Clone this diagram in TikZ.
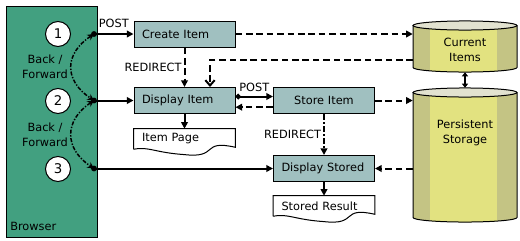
\documentclass[tikz,border=0pt]{standalone}
\usepackage{fontspec}
\setmainfont{DejaVu Sans}
\usetikzlibrary{arrows.meta,calc,positioning}
\definecolor{BrowserGreen}{RGB}{66,160,128}
\definecolor{StepGrey}{RGB}{160,192,192}
\definecolor{DrumYellow}{RGB}{226,226,128}
\definecolor{DrumOlive}{RGB}{196,196,132}
\definecolor{DrumTop}{RGB}{226,226,208}

\tikzset{
  stepbox/.style={draw,line width=.75pt,fill=StepGrey,text width=63.75pt,align=left,
    minimum height=19.5pt,inner xsep=6pt,inner ysep=0pt},
  pagebox/.style={text width=63.75pt,align=left,minimum height=15pt,inner xsep=6pt,inner ysep=0pt},
  drumbody/.style={minimum width=78pt,inner sep=0pt},
  flow/.style={line width=1.5pt,-{Triangle[length=5pt,width=5pt]}},
  dashflow/.style={flow,dash pattern=on 5pt off 2.8pt},
  redir/.style={flow,dash pattern=on 4.5pt off 1.5pt on 1.5pt off 1.5pt},
  backfwd/.style={line width=1.1pt,dash pattern=on 3pt off 1.2pt on 1pt off 1.2pt,
    {Stealth[length=5pt,width=5pt]}-{Stealth[length=5pt,width=5pt]}},
  stepno/.style={circle,draw,line width=.75pt,fill=white,minimum size=18.75pt,inner sep=0pt,font=\fontsize{10}{12}\selectfont},
  lbl/.style={align=center,inner sep=0pt},
}

\begin{document}
\begin{tikzpicture}[x=.75pt,y=-.75pt,font=\fontsize{8.5}{11}\selectfont]
  \useasboundingbox (0,0) rectangle (520,240);

  % browser column
  \node[draw,line width=.75pt,fill=BrowserGreen,minimum width=68.25pt,minimum height=173.25pt,
    inner sep=0pt,anchor=north west] (browser) at (6,6) {};
  \node[lbl,anchor=south west] (browserlbl) at ([xshift=3pt,yshift=5pt]browser.south west) {Browser};
  \foreach \i/\y in {1/34,2/101,3/169}
    \node[stepno] (c\i) at (58,\y) {\i};
  \node[lbl] (bf1) at (45,67) {Back /\\Forward};
  \node[lbl] (bf2) at (45,135) {Back /\\Forward};
  \coordinate (j1) at (94,34);
  \coordinate (j2) at (94,100.5);
  \coordinate (j3) at (94,168.5);

  % drums
  \foreach \yt/\yb in {25.5/67.5,92.5/217.5}{
    \begin{scope}
      \clip (413,\yt) -- (413,\yb) arc[start angle=180,end angle=360,x radius=39pt,y radius=3.4pt] -- (517,\yt) -- cycle;
      \fill[DrumOlive] (413,\yt-6) rectangle (517,\yb+6);
      \fill[DrumYellow] (430,\yt-6) rectangle (497,\yb+6);
    \end{scope}
    \draw[line width=.75pt] (413,\yt) -- (413,\yb) arc[start angle=180,end angle=360,x radius=39pt,y radius=3.4pt] -- (517,\yt);
    \draw[line width=.75pt,fill=DrumTop] (465,\yt) ellipse[x radius=39pt,y radius=3.4pt];
  }
  \node[drumbody,minimum height=38.25pt] (current) at (465,46.5) {};
  \node[drumbody,minimum height=100.5pt] (persist) at (465,155) {};
  \node[lbl] (currentlbl) at (465,50) {Current\\Items};
  \node[lbl] (persistlbl) at (465,133) {Persistent\\Storage};

  % steps
  \node[stepbox] (create) at (184.5,34) {Create Item};
  \node[stepbox] (display) at (184.5,100.5) {Display Item};
  \node[stepbox,align=center] (store) at (324,100.5) {Store Item};
  \node[stepbox] (stored) at (324,168.5) {Display Stored};
  \node[pagebox] (itempage) at (184.5,139) {Item Page};
  \node[pagebox] (storedres) at (324,206) {Stored Result};
  \foreach \n in {itempage,storedres}
    \draw[line width=.75pt] (\n.south west) -- (\n.north west) -- (\n.north east) -- ([yshift=1.5pt]\n.south east)
      .. controls +(-35,-8) and +(35,4) .. ([yshift=-4pt]\n.south) .. controls +(-30,-2) and +(15,-3) .. (\n.south west);

  % browser links
  \foreach \j in {j1,j2,j3}
    \fill (\j) circle (2.2pt);
  \draw[flow] (j1) -- (create.west) node[midway,above=4pt,lbl] (post1) {POST};
  \draw[flow] (j2) -- (display.west);
  \draw[flow] (j3) -- (stored.west);
  \draw[backfwd] (j1) .. controls +(-30,20) and +(-30,-20) .. (j2);
  \draw[backfwd] (j2) .. controls +(-30,20) and +(-30,-20) .. (j3);

  % flows between steps
  \draw[dashflow] (create.south) -- (display.north) node[midway,left=1.5pt,lbl] (redir1) {REDIRECT};
  \draw[line width=1.5pt,{Circle[length=4pt]}-{Triangle[length=5pt,width=5pt]}]
    ([yshift=3pt]display.east) -- ([yshift=3pt]display.east -| store.west) node[midway,above=3pt,lbl] (post2) {POST};
  \draw[dashflow] ([yshift=-5pt]store.west) -- ([yshift=-5pt]store.west -| display.east);
  \draw[redir] (store.south) -- (stored.north) node[midway,left=1.5pt,lbl] (redir2) {REDIRECT};
  \draw[flow] (display.south) -- (itempage.north);
  \draw[flow] (stored.south) -- (storedres.north);

  % store access
  \coordinate (curout) at (413,60);
  \coordinate (curbend) at (210,60);
  \draw[dashflow] (create.east) -- (create.east -| current.west);
  \draw[dashflow,-{Straight Barb[length=4pt,width=7pt]}] (curout) -- (curbend) -- (curbend |- display.north);
  \draw[dashflow] (store.east) -- (store.east -| persist.west);
  \draw[dashflow] (stored.east -| persist.west) -- (stored.east);
  \draw[line width=1.2pt,{Triangle[length=3pt,width=4.5pt]}-{Triangle[length=3pt,width=4.5pt]}] (current.south) -- (persist.north);
\end{tikzpicture}
\end{document}
